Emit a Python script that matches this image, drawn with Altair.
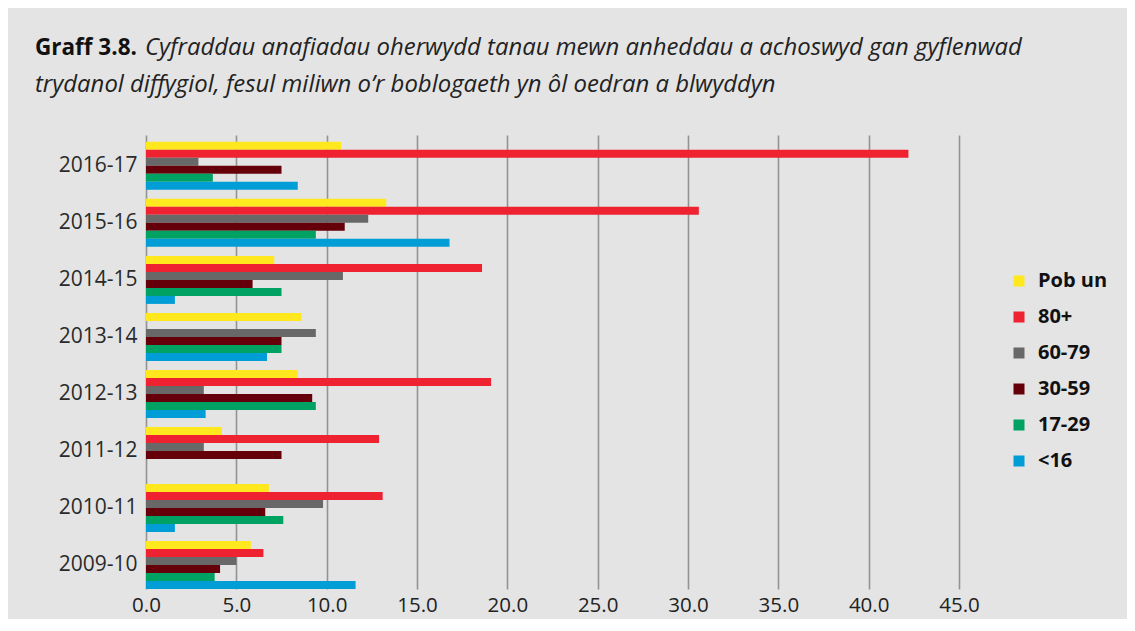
import altair as alt
import pandas as pd

years = ["2016-17", "2015-16", "2014-15", "2013-14", "2012-13", "2011-12", "2010-11", "2009-10"]
series = ["Pob un", "80+", "60-79", "30-59", "17-29", "<16"]
colors = ["#FFE81E", "#EE2230", "#686868", "#65000B", "#00A264", "#009DD6"]

pob_un = [10.8, 13.3, 7.1, 8.6, 8.4, 4.2, 6.8, 5.8]
age_80 = [42.2, 30.6, 18.6, 0.0, 19.1, 12.9, 13.1, 6.5]
age_60_79 = [2.9, 12.3, 10.9, 9.4, 3.2, 3.2, 9.8, 5.0]
age_30_59 = [7.5, 11.0, 5.9, 7.5, 9.2, 7.5, 6.6, 4.1]
age_17_29 = [3.7, 9.4, 7.5, 7.5, 9.4, 0.0, 7.6, 3.8]
age_u16 = [8.4, 16.8, 1.6, 6.7, 3.3, 0.0, 1.6, 11.6]

x_ticks = [0, 5, 10, 15, 20, 25, 30, 35, 40, 45]

title_bold = "Graff 3.8."
title_line1 = "Cyfraddau anafiadau oherwydd tanau mewn anheddau a achoswyd gan gyflenwad"
title_line2 = "trydanol diffygiol, fesul miliwn o\u2019r boblogaeth yn ôl oedran a blwyddyn"

all_vals = [pob_un, age_80, age_60_79, age_30_59, age_17_29, age_u16]
rows = []
for s, vals in zip(series, all_vals):
    for y, v in zip(years, vals):
        rows.append({"Blwyddyn": y, "Grŵp": s, "Gwerth": v})
df = pd.DataFrame(rows)

FONT = "Open Sans"

bars = alt.Chart(df).mark_bar().encode(
    y=alt.Y("Blwyddyn:N", sort=years, title=None,
            scale=alt.Scale(paddingInner=0.158, paddingOuter=0.06, align=1),
            axis=alt.Axis(ticks=False, domain=False, labelFontSize=21, labelColor="#2a2a2a",
                          labelPadding=9, labelFont=FONT)),
    yOffset=alt.YOffset("Grŵp:N", sort=series, scale=alt.Scale(paddingInner=0, paddingOuter=0)),
    x=alt.X("Gwerth:Q", title=None, scale=alt.Scale(domain=[0, 45], nice=False),
            axis=alt.Axis(values=x_ticks, format=".1f", ticks=False, domain=False,
                          labelFlush=False,
                          labelFontSize=20.5, labelColor="#222222", labelPadding=6, labelFont=FONT,
                          grid=True, gridColor="#939393", gridWidth=1.6)),
    color=alt.Color("Grŵp:N", sort=series,
                    scale=alt.Scale(domain=series, range=colors),
                    legend=alt.Legend(title=None, orient="none", legendX=863, legendY=136,
                                      symbolType="square", symbolSize=121, symbolStrokeWidth=0,
                                      labelFontSize=20, labelFontWeight="bold", labelColor="#111111",
                                      labelFont=FONT, labelOffset=9, rowPadding=16)),
)

tdf = pd.DataFrame({"k": [0]})
t_bold = alt.Chart(tdf).mark_text(text=title_bold, align="left", baseline="alphabetic",
                                   font=FONT, fontSize=22.5, fontWeight="bold", color="#111111").encode(
    x=alt.value(-111), y=alt.value(-80))
t_l1 = alt.Chart(tdf).mark_text(text=title_line1, align="left", baseline="alphabetic",
                                 font=FONT, fontSize=23.9, fontStyle="italic", color="#222222").encode(
    x=alt.value(-1), y=alt.value(-80))
t_l2 = alt.Chart(tdf).mark_text(text=title_line2, align="left", baseline="alphabetic",
                                 font=FONT, fontSize=23.9, fontStyle="italic", color="#222222").encode(
    x=alt.value(-111), y=alt.value(-43))

chart = alt.layer(bars, t_bold, t_l1, t_l2).properties(
    width=813, height=454,
    background="#e4e4e4",
    autosize=alt.AutoSizeParams(type="none"),
    padding={"left": 138, "top": 127, "right": 168, "bottom": 30},
).configure_view(stroke=None)

chart.save("out.html", embed_options={"renderer": "svg", "actions": False})
